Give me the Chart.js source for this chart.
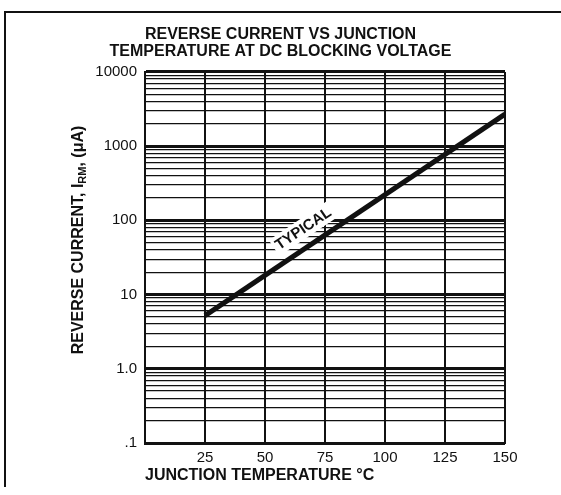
<!DOCTYPE html>
<html lang="en">
<head>
<title>Reverse Current vs Junction Temperature</title>
<script src="https://cdn.jsdelivr.net/npm/chart.js"></script>
<style>
  html, body { margin: 0; padding: 0; background: #fff; }
  canvas { display: block; }
</style>
</head>
<body>
<canvas id="irmChart" width="561" height="495"></canvas>
<script>
// values
const titleLines = ['REVERSE CURRENT VS JUNCTION', 'TEMPERATURE AT DC BLOCKING VOLTAGE'];
const tempTicks = [25, 50, 75, 100, 125, 150];
const typicalTemp = [25, 150];
const typicalCurrent = [5.2, 2700];
const currentLabels = { 0.1: '.1', 1: '1.0', 10: '10', 100: '100', 1000: '1000', 10000: '10000' };
// y title is drawn by hand so RM can be a subscript
const yTitleParts = [['REVERSE CURRENT, I', false], ['RM', true], [', (μA)', false]];

const FONT = "'Liberation Sans', Arial, sans-serif";

// every 1..9 x decade line, like log paper
function logPaperTicks(min, max) {
  const out = [];
  for (let d = Math.log10(min); d < Math.log10(max); d++) {
    for (let m = 1; m < 10; m++) out.push({ value: +(m * Math.pow(10, d)).toPrecision(3) });
  }
  out.push({ value: max });
  return out;
}
const isDecade = v => Math.abs(Math.log10(v) - Math.round(Math.log10(v))) < 1e-6;

const paperDecor = {
  id: 'paperDecor',
  beforeDraw(chart) {
    const ctx = chart.ctx;
    ctx.save();
    ctx.strokeStyle = '#111';
    ctx.lineWidth = 2;
    ctx.beginPath();
    ctx.moveTo(5, 487); ctx.lineTo(5, 12); ctx.lineTo(561, 12);
    ctx.stroke();
    ctx.restore();
  },
  afterDraw(chart) {
    // rotated y axis title with subscript
    const ctx = chart.ctx;
    const big = 'bold 16px ' + FONT, small = 'bold 11px ' + FONT;
    ctx.save();
    let total = 0;
    yTitleParts.forEach(([txt, sub]) => { ctx.font = sub ? small : big; total += ctx.measureText(txt).width; });
    ctx.translate(79, 240);
    ctx.rotate(-Math.PI / 2);
    ctx.fillStyle = '#111';
    ctx.textBaseline = 'middle';
    let x = -total / 2;
    yTitleParts.forEach(([txt, sub]) => {
      ctx.font = sub ? small : big;
      ctx.fillText(txt, x, sub ? 4 : 0);
      x += ctx.measureText(txt).width;
    });
    ctx.restore();
  },
  afterDatasetsDraw(chart) {
    const meta = chart.getDatasetMeta(0);
    const a = meta.data[0], b = meta.data[meta.data.length - 1];
    const t = 0.36;
    const ang = Math.atan2(b.y - a.y, b.x - a.x);
    const cx = a.x + (b.x - a.x) * t + Math.sin(ang) * 17;
    const cy = a.y + (b.y - a.y) * t - Math.cos(ang) * 17;
    const ctx = chart.ctx;
    ctx.save();
    ctx.translate(cx, cy);
    ctx.rotate(ang);
    ctx.font = 'bold 15px ' + FONT;
    const w = ctx.measureText('TYPICAL').width;
    ctx.fillStyle = '#fff';
    ctx.fillRect(-w / 2 - 3, -10, w + 6, 19);
    ctx.fillStyle = '#111';
    ctx.textAlign = 'center';
    ctx.textBaseline = 'middle';
    ctx.fillText('TYPICAL', 0, 0);
    ctx.restore();
  }
};

new Chart(document.getElementById('irmChart'), {
  type: 'line',
  data: {
    datasets: [{
      label: 'Typical',
      data: typicalTemp.map((t, i) => ({ x: t, y: typicalCurrent[i] })),
      borderColor: '#111',
      borderWidth: 5,
      pointRadius: 0,
      fill: false
    }]
  },
  options: {
    responsive: false,
    animation: false,
    layout: { padding: 0 },
    plugins: {
      legend: { display: false },
      tooltip: { enabled: false },
      title: {
        display: true,
        text: titleLines,
        color: '#111',
        font: { family: FONT, size: 16, weight: 'bold', lineHeight: 1.06 },
        padding: { top: 26, bottom: 12 }
      }
    },
    scales: {
      x: {
        type: 'linear',
        min: 0,
        max: 150,
        afterBuildTicks: s => { s.ticks = [0].concat(tempTicks).map(v => ({ value: v })); },
        ticks: {
          autoSkip: false,
          maxRotation: 0,
          padding: 6,
          color: '#111',
          font: { family: FONT, size: 15 },
          callback: v => v === 0 ? '' : String(v)
        },
        grid: { color: '#111', lineWidth: 2, drawTicks: false },
        border: { color: '#111', width: 2 },
        title: {
          display: true,
          align: 'start',
          text: 'JUNCTION TEMPERATURE °C',
          color: '#111',
          font: { family: FONT, size: 16, weight: 'bold' },
          padding: { top: 2, bottom: 10 }
        },
        afterFit: s => { s.height = 52; }
      },
      y: {
        type: 'logarithmic',
        min: 0.1,
        max: 10000,
        afterBuildTicks: s => { s.ticks = logPaperTicks(0.1, 10000); },
        ticks: {
          autoSkip: false,
          padding: 8,
          color: '#111',
          font: { family: FONT, size: 15 },
          callback: v => currentLabels[v] || ''
        },
        grid: {
          color: '#111',
          drawTicks: false,
          lineWidth: c => isDecade(c.tick.value) ? 3 : 1.3
        },
        border: { color: '#111', width: 2 },
        afterFit: s => { s.width = 145; }
      },
      // empty right margin so the title centres on the whole page
      margin: {
        type: 'linear',
        position: 'right',
        grid: { display: false, drawOnChartArea: false },
        border: { display: false },
        ticks: { display: false },
        afterFit: s => { s.width = 56; }
      }
    }
  },
  plugins: [paperDecor]
});
</script>
</body>
</html>
